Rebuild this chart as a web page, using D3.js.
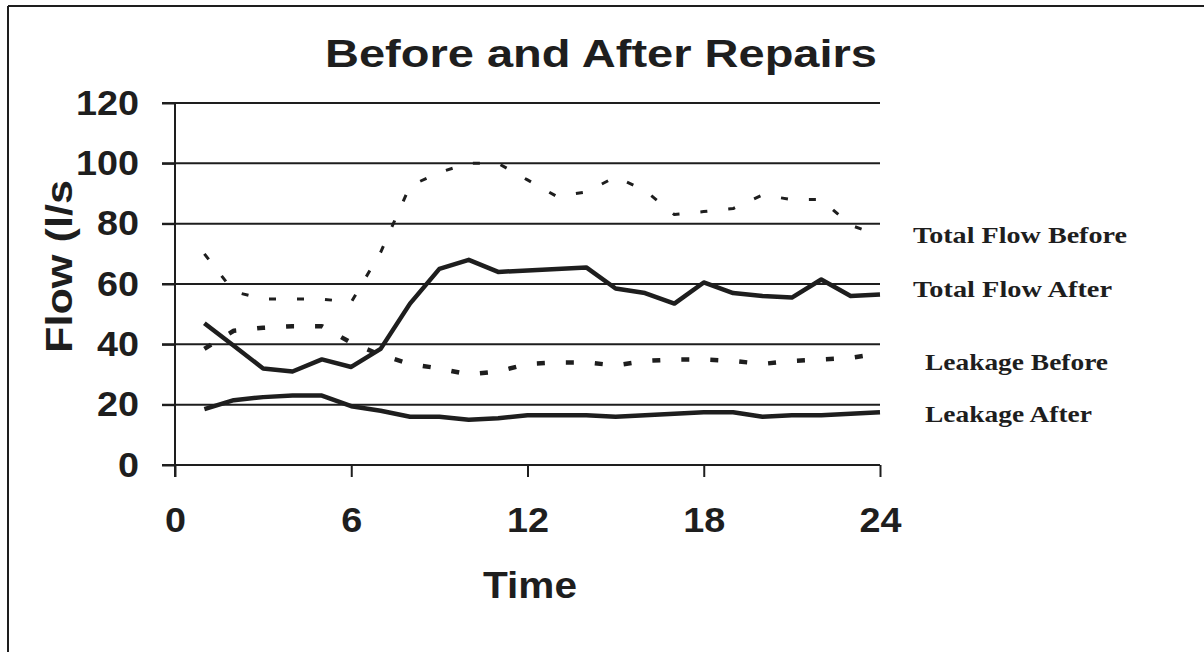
<!DOCTYPE html>
<html>
<head>
<meta charset="utf-8">
<script src="https://cdn.jsdelivr.net/npm/d3@7/dist/d3.min.js"></script>
<style>
  html, body { margin: 0; padding: 0; background: #fff; }
  svg { display: block; }
</style>
</head>
<body>
<svg id="chart" width="1204" height="652"></svg>
<script>
// Hourly flow readings over one day (l/s)
const hours = [1, 2, 3, 4, 5, 6, 7, 8, 9, 10, 11, 12, 13, 14, 15, 16, 17, 18, 19, 20, 21, 22, 23, 24];
const totalFlowBefore = [70, 57.5, 55, 55, 55, 54, 70.5, 92.5, 97, 100, 100, 94.5, 89, 90.5, 95.5, 91, 83, 84, 85, 89.5, 88, 88, 79.5, 76];
const totalFlowAfter  = [47, 39.5, 32, 31, 35, 32.5, 38.5, 53.5, 65, 68, 64, 64.5, 65, 65.5, 58.5, 57, 53.5, 60.5, 57, 56, 55.5, 61.5, 56, 56.5];
const leakageBefore   = [38.5, 44.5, 45.5, 46, 46, 40.5, 36.5, 33.5, 32, 30, 31, 33.5, 34, 34, 33, 34.5, 35, 35, 34.5, 33.5, 34.5, 35, 35.5, 37];
const leakageAfter    = [18.5, 21.5, 22.5, 23, 23, 19.5, 18, 16, 16, 15, 15.5, 16.5, 16.5, 16.5, 16, 16.5, 17, 17.5, 17.5, 16, 16.5, 16.5, 17, 17.5];
const xTicks = [0, 6, 12, 18, 24];
const yTicks = [0, 20, 40, 60, 80, 100, 120];

const ink = "#1e1e1e";
const sans = "'Liberation Sans', Arial, sans-serif";
const serif = "'Liberation Serif', 'Times New Roman', serif";

const svg = d3.select("#chart");

// frame edges
svg.append("line").attr("x1", 8).attr("y1", 6).attr("x2", 1204).attr("y2", 6)
  .attr("stroke", ink).attr("stroke-width", 2);
svg.append("line").attr("x1", 8).attr("y1", 6).attr("x2", 8).attr("y2", 652)
  .attr("stroke", ink).attr("stroke-width", 2);

const x = d3.scaleLinear().domain([0, 24]).range([175, 880]);
const y = d3.scaleLinear().domain([0, 120]).range([465, 103]);

// horizontal gridlines
svg.append("g").selectAll("line").data(yTicks).join("line")
  .attr("x1", 162).attr("x2", 880)
  .attr("y1", d => y(d)).attr("y2", d => y(d))
  .attr("stroke", ink).attr("stroke-width", 2);

// y axis
const yAxis = svg.append("g").attr("transform", "translate(175,0)")
  .call(d3.axisLeft(y).tickValues(yTicks).tickSizeInner(13).tickSizeOuter(0).tickPadding(23));
yAxis.select(".domain").remove();
yAxis.selectAll("line").attr("stroke", ink).attr("stroke-width", 2);
yAxis.selectAll("text")
  .attr("font-family", sans).attr("font-weight", "bold").attr("font-size", 35)
  .attr("fill", ink)
  .attr("textLength", d => String(d).length * 21).attr("lengthAdjust", "spacingAndGlyphs");
svg.append("line").attr("x1", 175).attr("x2", 175).attr("y1", y(120)).attr("y2", 477)
  .attr("stroke", ink).attr("stroke-width", 2);

// x axis
const xAxis = svg.append("g").attr("transform", `translate(0,${y(0)})`)
  .call(d3.axisBottom(x).tickValues(xTicks).tickSizeInner(12).tickSizeOuter(0).tickPadding(30));
xAxis.select(".domain").remove();
xAxis.selectAll("line").attr("stroke", ink).attr("stroke-width", 2);
xAxis.selectAll("text")
  .attr("font-family", sans).attr("font-weight", "bold").attr("font-size", 35)
  .attr("fill", ink)
  .attr("textLength", d => String(d).length * 21).attr("lengthAdjust", "spacingAndGlyphs");

// series
const line = d3.line().x((d, i) => x(hours[i])).y(d => y(d));
const series = [
  { values: totalFlowBefore, width: 3, dash: "7,21" },
  { values: leakageBefore, width: 4.5, dash: "8,21" },
  { values: totalFlowAfter, width: 4.5, dash: null },
  { values: leakageAfter, width: 4.5, dash: null }
];
svg.append("g").selectAll("path").data(series).join("path")
  .attr("d", d => line(d.values))
  .attr("fill", "none")
  .attr("stroke", ink)
  .attr("stroke-width", d => d.width)
  .attr("stroke-linejoin", "round")
  .attr("stroke-dasharray", d => d.dash);

// title
svg.append("text").attr("x", 325).attr("y", 67)
  .attr("font-family", sans).attr("font-weight", "bold").attr("font-size", 38)
  .attr("fill", ink)
  .attr("textLength", 552).attr("lengthAdjust", "spacingAndGlyphs")
  .text("Before and After Repairs");

// axis titles
svg.append("text").attr("x", 483).attr("y", 598)
  .attr("font-family", sans).attr("font-weight", "bold").attr("font-size", 36)
  .attr("fill", ink)
  .attr("textLength", 94).attr("lengthAdjust", "spacingAndGlyphs")
  .text("Time");
svg.append("text")
  .attr("transform", "translate(72,353) rotate(-90)")
  .attr("font-family", sans).attr("font-weight", "bold").attr("font-size", 37)
  .attr("fill", ink)
  .attr("textLength", 173).attr("lengthAdjust", "spacingAndGlyphs")
  .text("Flow (l/s");

// series labels
const labels = [
  { text: "Total Flow Before", x: 913, y: 243, w: 214 },
  { text: "Total Flow After", x: 913, y: 297, w: 199 },
  { text: "Leakage Before", x: 925, y: 370, w: 183 },
  { text: "Leakage After", x: 925, y: 422, w: 167 }
];
svg.append("g").selectAll("text").data(labels).join("text")
  .attr("x", d => d.x).attr("y", d => d.y)
  .attr("font-family", serif).attr("font-weight", "bold").attr("font-size", 23)
  .attr("fill", ink)
  .attr("textLength", d => d.w).attr("lengthAdjust", "spacingAndGlyphs")
  .text(d => d.text);
</script>
</body>
</html>
